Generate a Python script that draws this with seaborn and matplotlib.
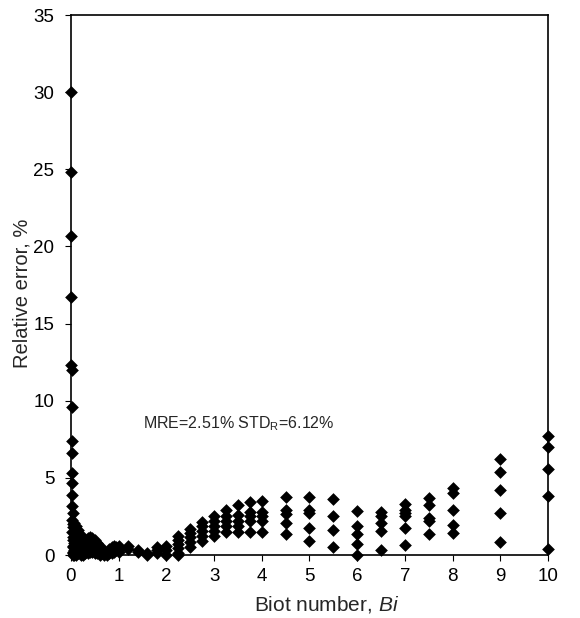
import numpy as np
import pandas as pd
import matplotlib
matplotlib.use("Agg")
import matplotlib.pyplot as plt
import seaborn as sns

# ---- data (Biot number, relative error %) ----
bi_near_zero = [0.01]*5 + [0.02]*5 + [0.03]*5 + [0.04]*5 + [0.05]*5 + [0.07]*5 + [0.1]*5
err_near_zero = [30.0, 24.8, 20.7, 16.7, 12.3,
                 12.0, 9.6, 7.4, 5.3, 3.9,
                 6.6, 4.7, 3.2, 2.3, 1.5,
                 2.7, 2.0, 1.2, 0.6, 0.2,
                 1.8, 1.0, 0.5, 0.1, 0.0,
                 2.1, 1.4, 0.8, 0.3, 0.0,
                 1.9, 1.3, 0.7, 0.3, 0.0]

bi_low = ([0.15]*5 + [0.2]*5 + [0.25]*5 + [0.3]*4 + [0.35]*4 + [0.4]*4 + [0.45]*4
          + [0.5]*4 + [0.55]*4 + [0.6]*4 + [0.65]*3 + [0.7]*3 + [0.75]*3 + [0.8]*3
          + [0.85]*3 + [0.9]*3 + [0.95]*2 + [1.0]*3 + [1.2]*2 + [1.4]*2 + [1.6]*2
          + [1.8]*3 + [2.0]*3)
err_low = [1.6, 1.2, 0.8, 0.4, 0.1,
           1.3, 0.9, 0.5, 0.2, 0.0,
           0.7, 0.5, 0.3, 0.1, 0.0,
           0.9, 0.6, 0.3, 0.1,
           1.1, 0.8, 0.4, 0.1,
           1.2, 1.0, 0.6, 0.2,
           1.1, 0.9, 0.5, 0.2,
           1.0, 0.8, 0.4, 0.1,
           0.8, 0.6, 0.3, 0.1,
           0.6, 0.4, 0.2, 0.0,
           0.4, 0.2, 0.1,
           0.2, 0.1, 0.0,
           0.15, 0.05, 0.0,
           0.4, 0.2, 0.1,
           0.5, 0.3, 0.1,
           0.6, 0.4, 0.2,
           0.5, 0.3,
           0.6, 0.4, 0.2,
           0.6, 0.4,
           0.35, 0.2,
           0.1, 0.0,
           0.55, 0.35, 0.1,
           0.6, 0.35, 0.0]

bi_mid = ([2.25]*6 + [2.5]*5 + [2.75]*5 + [3.0]*5 + [3.25]*5 + [3.5]*5
          + [3.75]*5 + [4.0]*5)
err_mid = [1.26, 1.0, 0.71, 0.45, 0.13, 0.0,
           1.69, 1.41, 1.15, 0.82, 0.5,
           2.16, 1.9, 1.58, 1.26, 0.93,
           2.55, 2.23, 1.9, 1.58, 1.26,
           2.92, 2.55, 2.23, 1.86, 1.47,
           3.27, 2.6, 2.23, 1.9, 1.47,
           3.46, 2.81, 2.55, 2.23, 1.52,
           3.5, 2.81, 2.55, 2.2, 1.46]

bi_high = ([4.5]*5 + [5.0]*5 + [5.5]*4 + [6.0]*5 + [6.5]*5 + [7.0]*6 + [7.5]*5
           + [8.0]*5 + [9.0]*5 + [10.0]*5)
err_high = [3.73, 2.9, 2.65, 2.05, 1.37,
            3.73, 2.9, 2.7, 1.78, 0.91,
            3.62, 2.5, 1.63, 0.54,
            2.87, 1.89, 1.38, 0.7, 0.02,
            2.8, 2.55, 2.1, 1.55, 0.3,
            3.3, 2.95, 2.7, 2.5, 1.75, 0.65,
            3.72, 3.25, 2.38, 2.23, 1.34,
            4.37, 4.0, 2.92, 1.95, 1.45,
            6.21, 5.35, 4.22, 2.75, 0.82,
            7.73, 7.0, 5.58, 3.85, 0.37]

x_ticks = [0, 1, 2, 3, 4, 5, 6, 7, 8, 9, 10]
y_ticks = [0, 5, 10, 15, 20, 25, 30, 35]
annotation = "MRE=2.51% STD$_\\mathrm{R}$=6.12%"

df = pd.DataFrame({
    "Bi": bi_near_zero + bi_low + bi_mid + bi_high,
    "err": err_near_zero + err_low + err_mid + err_high,
})

sns.set_style("ticks")
plt.rcParams["font.family"] = ["Liberation Sans", "DejaVu Sans"]
plt.rcParams["mathtext.fontset"] = "custom"
plt.rcParams["mathtext.rm"] = "Liberation Sans"
plt.rcParams["mathtext.it"] = "Liberation Sans:italic"

fig = plt.figure(figsize=(5.8, 6.18), dpi=100)
ax = fig.add_axes([0.1224, 0.1019, 0.8224, 0.8738])

sns.scatterplot(data=df, x="Bi", y="err", ax=ax, marker="D", s=42,
                color="black", edgecolor="black", linewidth=0, clip_on=False,
                zorder=3)

ax.set_xlim(0, 10)
ax.set_ylim(0, 35)
ax.set_xticks(x_ticks)
ax.set_yticks(y_ticks)
ax.tick_params(axis="both", direction="out", length=4, width=0.8,
               labelsize=13.5, colors="black")
ax.tick_params(axis="y", pad=8)
ax.tick_params(axis="x", pad=5)
for sp in ax.spines.values():
    sp.set_visible(True)
    sp.set_color("black")
    sp.set_linewidth(1.2)

ax.set_xlabel("Biot number, $\\mathit{Bi}$", fontsize=15)
ax.set_ylabel("Relative error, %", fontsize=14.5)
ax.xaxis.set_label_coords(0.535, -0.072)
ax.yaxis.set_label_coords(-0.082, 0.485)
ax.text(1.5, 8.5, annotation, fontsize=11.5, va="center", ha="left")

fig.savefig("out.png", dpi=100)
